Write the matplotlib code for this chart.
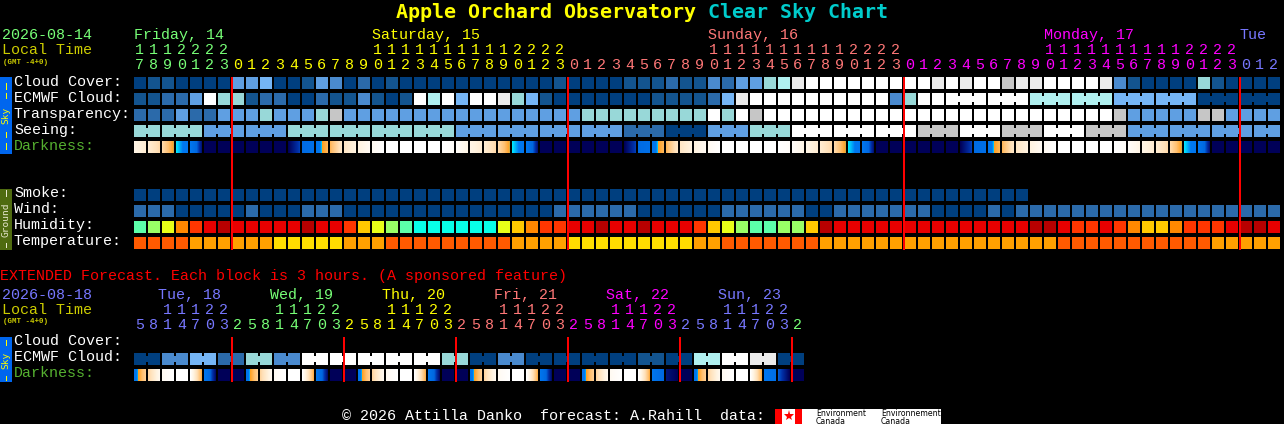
import matplotlib
matplotlib.use("Agg")
import matplotlib.colors as mcolors
import matplotlib.patches as mpatches
import matplotlib.pyplot as plt
import numpy as np

# sky rows: 0 darkest blue ... 9 white, 10 grey
cloud_cover = [
    0, 1, 1, 0, 0, 0, 0, 4, 4, 5, 0, 0, 1, 4, 3, 0, 2, 0, 1, 0, 0,
    0, 0, 0, 0, 0, 0, 0, 0, 0, 1, 0, 0, 0, 0, 1, 1, 1, 2, 1, 1, 3, 2, 4, 4, 6, 7, 8, 9, 9, 9, 9,
    9, 9, 9, 9, 9, 8, 9, 8, 9, 9, 10, 8, 8, 9, 9, 9, 9, 8, 3, 1, 0, 0, 0, 0, 6, 1, 0, 0, 0, 0,
]
ecmwf_cloud = [
    1, 1, 2, 2, 4, 9, 6, 6, 1, 2, 2, 0, 0, 2, 1, 1, 3, 1, 0, 1, 9,
    7, 9, 5, 9, 9, 8, 6, 5, 1, 0, 0, 0, 0, 0, 0, 0, 1, 1, 1, 1, 2, 5, 8, 9, 9, 9, 9, 9, 9, 9, 9,
    9, 9, 3, 6, 9, 9, 9, 9, 9, 9, 9, 9, 7, 7, 7, 7, 7, 7, 5, 5, 5, 5, 5, 5, 0, 0, 0, 0, 0, 0,
]
transparency = [
    2, 2, 2, 4, 2, 2, 4, 4, 4, 6, 4, 4, 4, 6, 10, 4, 4, 4, 4, 4, 4,
    4, 4, 4, 4, 4, 4, 4, 4, 4, 4, 4, 6, 6, 6, 6, 6, 6, 6, 6, 6, 9, 6, 9, 10, 9, 9, 9, 9, 9, 9, 9,
    9, 9, 9, 9, 9, 9, 9, 9, 9, 9, 9, 9, 9, 9, 9, 9, 9, 9, 10, 4, 4, 4, 4, 4, 10, 10, 4, 4, 4, 4,
]
seeing = [
    6, 6, 6, 6, 6, 4, 4, 4, 4, 4, 4, 6, 6, 6, 6, 6, 6, 6, 6, 6, 6,
    6, 6, 4, 4, 4, 4, 4, 4, 4, 4, 4, 4, 4, 4, 2, 2, 2, 0, 0, 0, 4, 4, 4, 6, 6, 6, 9, 9, 9, 9, 9,
    9, 9, 9, 9, 10, 10, 10, 9, 9, 9, 10, 10, 10, 9, 9, 9, 10, 10, 10, 4, 4, 4, 4, 4, 4, 4, 4, 4, 4, 4,
]
smoke = [0] * 64
wind = [
    2, 2, 2, 0, 0, 0, 0, 0, 2, 0, 0, 0, 2, 2, 2, 0, 0, 0, 0, 0, 0,
    0, 0, 0, 0, 0, 0, 0, 0, 0, 2, 2, 2, 2, 2, 2, 0, 0, 0, 0, 0, 0, 2, 2, 2, 2, 2, 2, 0, 0, 2, 2,
    2, 2, 2, 2, 2, 0, 0, 0, 0, 2, 0, 2, 2, 2, 2, 2, 2, 2, 2, 2, 2, 2, 2, 2, 2, 2, 2, 2, 2, 2,
]
humidity = [
    1, 2, 3, 5, 6, 7, 8, 7, 7, 7, 7, 7, 8, 7, 7, 6, 4, 3, 2, 1, 0,
    0, 0, 0, 0, 0, 3, 4, 5, 6, 6, 7, 7, 8, 7, 7, 8, 7, 7, 7, 6, 4, 3, 2, 1, 1, 2, 2, 4, 8, 7, 7,
    7, 7, 7, 7, 7, 7, 7, 7, 7, 7, 7, 7, 8, 8, 7, 6, 6, 7, 6, 5, 4, 4, 5, 6, 6, 6, 7, 8, 8, 7,
]
temperature = [
    0, 0, 0, 0, 1, 1, 1, 1, 1, 1, 2, 2, 2, 2, 2, 1, 1, 1, 0, 0, 0,
    0, 0, 0, 0, 0, 0, 1, 1, 1, 1, 2, 2, 2, 2, 2, 2, 2, 2, 2, 1, 1, 0, 0, 0, 0, 0, 0, 0, 1, 1, 1,
    1, 1, 1, 1, 1, 1, 1, 1, 1, 1, 1, 1, 1, 1, 0, 0, 0, 0, 0, 0, 0, 0, 0, 0, 0, 1, 1, 1, 1, 1,
]
# darkness at the left / right edge of each block, 0 daylight .. 1 full night
darkness_start = [
    .12, .20, .33, .552, .60, 1, 1, 1, 1, 1, 1, 1, .76, .63, .48, .25, .15, .06, 0, 0, 0, 0, 0, .03,
    .12, .20, .33, .552, .60, 1, 1, 1, 1, 1, 1, 1, .76, .63, .48, .25, .15, .06, 0, 0, 0, 0, 0, .03,
    .12, .20, .33, .552, .60, 1, 1, 1, 1, 1, 1, 1, .76, .63, .48, .25, .15, .06, 0, 0, 0, 0, 0, .03,
    .12, .20, .33, .552, .60, 1, 1, 1, 1, 1,
]
darkness_end = [
    .20, .33, .55, .60, .95, 1, 1, 1, 1, 1, 1, .86, .70, .48, .25, .15, .06, 0, 0, 0, 0, 0, .03, .12,
    .20, .33, .55, .60, .95, 1, 1, 1, 1, 1, 1, .86, .70, .48, .25, .15, .06, 0, 0, 0, 0, 0, .03, .12,
    .20, .33, .55, .60, .95, 1, 1, 1, 1, 1, 1, .86, .70, .48, .25, .15, .06, 0, 0, 0, 0, 0, .03, .12,
    .20, .33, .55, .60, .95, 1, 1, 1, 1, 1,
]

ext_cloud = [
    0, 0, 3, 3, 5, 5, 2, 2, 6, 6, 3, 3, 9, 9, 9, 9, 9, 9, 9, 9, 9, 9, 6, 6,
    0, 0, 3, 3, 0, 0, 0, 0, 0, 0, 0, 0, 1, 1, 0, 0, 7, 7, 9, 9, 8, 8, 0, 0,
]
ext_darkness_start = [
    .64, .35, .06, 0, 0, .62, 1, 1, .64, .35, .06, 0, 0, .62, 1, 1,
    .64, .35, .06, 0, 0, .62, 1, 1, .64, .35, .06, 0, 0, .62, 1, 1,
    .64, .35, .06, 0, 0, .62, .95, 1, .64, .35, .06, 0, 0, .62, .82, 1,
]
ext_darkness_end = [
    .38, .08, 0, 0, .50, .97, 1, 1, .38, .08, 0, 0, .50, .97, 1, 1,
    .38, .08, 0, 0, .50, .97, 1, 1, .38, .08, 0, 0, .50, .97, 1, 1,
    .38, .08, 0, 0, .50, .78, 1, 1, .38, .08, 0, 0, .50, .70, 1, 1,
]

hours = [17, 18, 19, 20, 21, 22, 23] + list(range(24)) * 3 + [0, 1, 2]
ext_hours = [5, 8, 11, 14, 17, 20, 23] + [2, 5, 8, 11, 14, 17, 20, 23] * 5 + [2]
days = ["Friday, 14", "Saturday, 15", "Sunday, 16", "Monday, 17", "Tue"]
ext_days = ["Tue, 18", "Wed, 19", "Thu, 20", "Fri, 21", "Sat, 22", "Sun, 23"]

SKY = ["#003f7f", "#13548f", "#2b6aaa", "#4a8ace", "#5f9fe2", "#75b5f5",
       "#98d8d8", "#b0f0f0", "#ebebeb", "#ffffff", "#c6c6c6"]
HUMID = ["#08ffe8", "#5cffaa", "#99ff66", "#e8ff18", "#ffc800", "#ff8800",
         "#ff3600", "#e80000", "#b80000"]
TEMP = ["#ff5a00", "#ffa000", "#ffdd00"]
DAY_COLORS = ["#77ff77", "#ffff00", "#ff7777", "#ff00ff", "#7777ff"]

DARK_CMAP = mcolors.LinearSegmentedColormap.from_list("dark", [
    (0, "#ffffff"), (.15, "#fff3e0"), (.30, "#ffe0b8"), (.45, "#ffc070"),
    (.55, "#ffa020"), (.552, "#00e8ff"), (.58, "#0078f0"), (.80, "#0068e0"),
    (.88, "#0030a8"), (1, "#000058"),
], N=1024)

X0, PITCH, BLOCK = 134, 14, 12
MONO = "Liberation Mono"
FS = 10.8


def put(ax, x, y, s, color="white", size=FS, **kw):
    # Liberation Mono sits a pixel low against the reference baselines
    ax.text(x, y - 1, s, color=color, fontsize=size, family=MONO, va="baseline", ha="left", **kw)


def rect(ax, x, y, w, h, color, zorder=1):
    ax.add_patch(mpatches.Rectangle((x, y), w, h, fc=color, lw=0, zorder=zorder))


def blocks(ax, top, values, palette, group=None, first=0, offset=0):
    for i, v in enumerate(values):
        x = X0 + i * PITCH
        rect(ax, x, top, BLOCK, BLOCK, palette[v])
        # 3-hourly models get a little bridge between blocks of one step
        if group and i + 1 < len(values) and i >= first and (i + 1 - offset) % group:
            rect(ax, x + BLOCK, top + 3, PITCH - BLOCK, BLOCK - 6, palette[v])


def dark_blocks(ax, top, start, end):
    for i, (a, b) in enumerate(zip(start, end)):
        x = X0 + i * PITCH
        grad = np.linspace(a, b, 12)[None, :]
        ax.imshow(grad, cmap=DARK_CMAP, vmin=0, vmax=1, extent=(x, x + BLOCK, top + BLOCK, top),
                  aspect="auto", interpolation="nearest", zorder=1)


def side_bar(ax, top, bottom, color, text, text_color, text_y, dashes):
    rect(ax, 0, top, 12, bottom - top, color)
    ax.text(6, text_y, text, color=text_color, fontsize=6.8, family="DejaVu Sans Mono",
            rotation=90, ha="center", va="center")
    for y0, y1 in dashes:
        rect(ax, 6, y0, 1, y1 - y0, text_color)


def hour_labels(ax, hrs, colors, y_tens, y_units):
    for i, h in enumerate(hrs):
        x = X0 + i * PITCH + 1
        put(ax, x, y_units, str(h % 10), colors[i])
        if h >= 10:
            put(ax, x, y_tens, str(h // 10), colors[i])


def main():
    fig = plt.figure(figsize=(12.84, 4.24), dpi=100, facecolor="black")
    ax = fig.add_axes([0, 0, 1, 1])
    ax.set_facecolor("black")
    ax.axis("off")

    # title
    for x, title, color in [(396, "Apple Orchard Observatory", "#ffff00"), (708, "Clear Sky Chart", "#00cccc")]:
        ax.text(x, 18, title, color=color, fontsize=14.4, family="DejaVu Sans Mono",
                fontweight="bold", va="baseline", ha="left")

    # three day header
    put(ax, 2, 40, "2026-08-14", DAY_COLORS[0])
    put(ax, 2, 55, "Local Time", "#cccc00")
    put(ax, 3, 65, "(GMT -4+0)", "#cccc00", 5.4, fontweight="bold")
    for col, day, color in zip([0, 17, 41, 65, 79], days, DAY_COLORS):
        put(ax, X0 + col * PITCH, 40, day, color)
    day_idx = np.cumsum([h == 0 for h in hours])
    hour_labels(ax, hours, [DAY_COLORS[d] for d in day_idx], 55, 70)

    # sky block
    side_bar(ax, 77, 154, "#0066ee", "Sky", "#ffff00", 115, [(83, 90), (93, 99), (132, 138), (143, 150)])
    labels = ["Cloud Cover:", "ECMWF Cloud:", "Transparency:", "Seeing:"]
    for i, label in enumerate(labels):
        put(ax, 14, 87 + 16 * i, label)
    put(ax, 14, 151, "Darkness:", "#55b030")
    blocks(ax, 77, cloud_cover, SKY)
    blocks(ax, 93, ecmwf_cloud, SKY, group=3, first=58, offset=58)
    blocks(ax, 109, transparency, SKY)
    blocks(ax, 125, seeing, SKY, group=3, offset=2)
    dark_blocks(ax, 141, darkness_start, darkness_end)

    # ground block
    side_bar(ax, 189, 250, "#4f6b10", "Ground", "#e8e8d0", 220, [(190, 197), (243, 248)])
    for i, label in enumerate(["Smoke:", "Wind:", "Humidity:", "Temperature:"]):
        put(ax, 14, 198 + 16 * i, label)
    blocks(ax, 189, smoke, SKY)
    blocks(ax, 205, wind, SKY)
    blocks(ax, 221, humidity, HUMID)
    blocks(ax, 237, temperature, TEMP)

    for i, h in enumerate(hours):
        if h == 0:
            rect(ax, X0 + i * PITCH - 1, 77, 2, 173, "#ff0000", zorder=5)

    # extended forecast
    put(ax, 0, 281, "EXTENDED Forecast. Each block is 3 hours. (A sponsored feature)", "#ff0000")
    put(ax, 2, 300, "2026-08-18", DAY_COLORS[4])
    put(ax, 2, 315, "Local Time", "#cccc00")
    put(ax, 3, 324, "(GMT -4+0)", "#cccc00", 5.4, fontweight="bold")
    ext_day_colors = [DAY_COLORS[4], DAY_COLORS[0], DAY_COLORS[1], DAY_COLORS[2], DAY_COLORS[3], DAY_COLORS[4]]
    for i, (day, color) in enumerate(zip(ext_days, ext_day_colors)):
        put(ax, 158 + i * 8 * PITCH, 300, day, color)
    ext_idx = [0] * 7 + [1] * 8 + [2] * 8 + [3] * 8 + [4] * 8 + [5] * 8 + [6]
    ext_cols = ext_day_colors + [DAY_COLORS[0]]
    hour_labels(ax, ext_hours, [ext_cols[d] for d in ext_idx], 315, 330)

    side_bar(ax, 337, 382, "#0066ee", "Sky", "#ffff00", 360, [(340, 346), (376, 381)])
    put(ax, 14, 346, "Cloud Cover:")
    put(ax, 14, 362, "ECMWF Cloud:")
    put(ax, 14, 378, "Darkness:", "#55b030")
    blocks(ax, 353, ext_cloud, SKY, group=2)
    dark_blocks(ax, 369, ext_darkness_start, ext_darkness_end)
    for i in range(7, len(ext_hours), 8):
        rect(ax, X0 + i * PITCH - 1, 337, 2, 45, "#ff0000", zorder=5)

    # footer
    put(ax, 342, 421, "\u00a9 2026 Attilla Danko  forecast: A.Rahill  data:")
    rect(ax, 775, 409, 166, 15, "white")
    rect(ax, 775, 409, 7, 15, "#ff0000", zorder=2)
    rect(ax, 795, 409, 7, 15, "#ff0000", zorder=2)
    ax.plot([788.5], [416], marker="*", ms=8, color="#ff0000", mew=0, zorder=6)
    for x, word in [(816, "Environment"), (881, "Environnement")]:
        ax.text(x, 415.5, word, color="black", fontsize=5.6, family="DejaVu Sans", va="baseline", zorder=6)
        ax.text(x, 423.5, "Canada", color="black", fontsize=5.6, family="DejaVu Sans", va="baseline", zorder=6)

    ax.set_xlim(0, 1284)
    ax.set_ylim(424, 0)
    fig.savefig("out.png", dpi=100, facecolor="black")


if __name__ == "__main__":
    main()
